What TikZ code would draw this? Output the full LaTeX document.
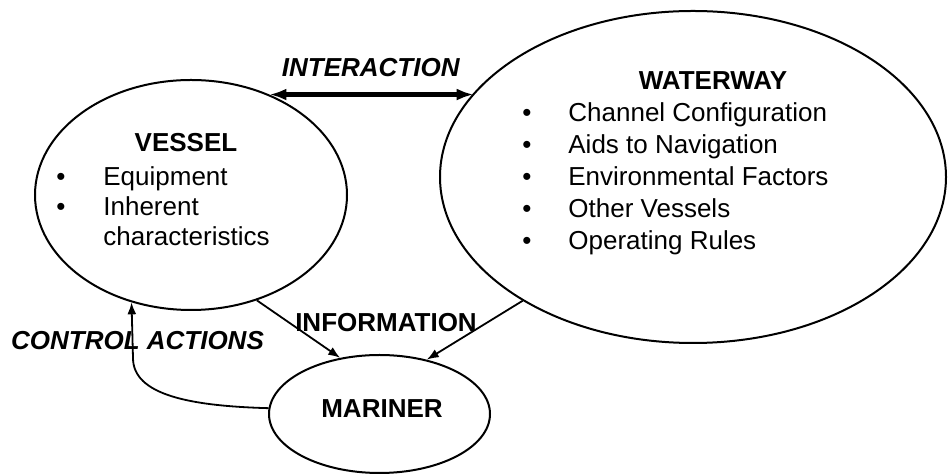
\documentclass[tikz,border=0pt]{standalone}
\usepackage{fontspec}
\setmainfont{Liberation Sans}
\usetikzlibrary{shapes.geometric,arrows.meta}
\begin{document}
\begin{tikzpicture}[x=0.5pt,y=-0.5pt,
  font=\fontsize{13pt}{15pt}\selectfont,
  blob/.style={ellipse, draw, line width=1pt, inner sep=0pt},
  txt/.style={inner sep=0pt, anchor=base},
  ltxt/.style={inner sep=0pt, anchor=base west},
  flow/.style={-{Latex[length=6pt,width=4.5pt]}, line width=0.9pt},
  both/.style={{Latex[length=8.5pt,width=6pt]}-{Latex[length=8.5pt,width=6pt]}, line width=2.1pt}]

\useasboundingbox (0,0) rectangle (948,474);

% ellipses
\node[blob, minimum width=156pt, minimum height=115pt] (vessel) at (191,195) {};
\node[blob, minimum width=253pt, minimum height=166pt] (waterway) at (693,177) {};
\node[blob, minimum width=110.5pt, minimum height=59pt] (mariner) at (379.5,414) {};

% vessel text
\node[txt] (vtitle) at (186,152) {\textbf{VESSEL}};
\node[txt] (vb1) at (61,186) {•};
\node[ltxt] (vi1) at (103,186) {Equipment};
\node[txt] (vb2) at (61,216) {•};
\node[ltxt] (vi2) at (103,216) {Inherent};
\node[ltxt] (vi3) at (103,246) {characteristics};

% waterway text
\node[txt] (wtitle) at (713,90) {\textbf{WATERWAY}};
\node[txt] (wb1) at (527,122) {•};
\node[ltxt] (wi1) at (568,122) {Channel Configuration};
\node[txt] (wb2) at (527,154) {•};
\node[ltxt] (wi2) at (568,154) {Aids to Navigation};
\node[txt] (wb3) at (527,186) {•};
\node[ltxt] (wi3) at (568,186) {Environmental Factors};
\node[txt] (wb4) at (527,218) {•};
\node[ltxt] (wi4) at (568,218) {Other Vessels};
\node[txt] (wb5) at (527,250) {•};
\node[ltxt] (wi5) at (568,250) {Operating Rules};

% mariner text
\node[txt] (mtitle) at (382,418) {\textbf{MARINER}};

% labels
\node[txt] (interaction) at (371,77) {\textbf{\textit{INTERACTION}}};
\node[txt] (information) at (386,332) {\textbf{INFORMATION}};
\node[txt] (control) at (137.5,350) {\textbf{\textit{CONTROL ACTIONS}}};

% connectors
\coordinate (ia) at (vessel.52);
\draw[both] (ia) -- (ia -| waterway.159.5);
\draw[flow] (vessel.-58.6) -- (mariner.125);
\draw[flow] (waterway.216.9) -- (mariner.49.1);
\coordinate (bend) at (133,358);
\draw[flow] (mariner.177) .. controls (190,406) and (133,395) .. (bend) -- (vessel.241.5);
\end{tikzpicture}
\end{document}
